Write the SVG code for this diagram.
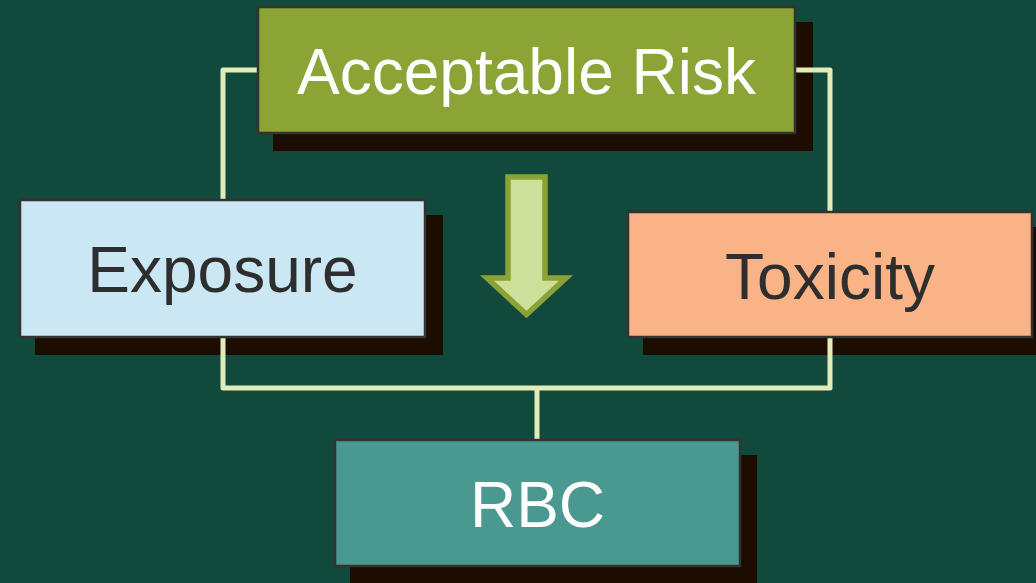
<svg xmlns="http://www.w3.org/2000/svg" width="1036" height="583" viewBox="0 0 1036 583">
<style>
.shadow{fill:#1D0C00}
.box{stroke:#333333;stroke-width:2.5}
.conn{fill:none;stroke:#E1EDB9;stroke-width:5;stroke-linejoin:round;stroke-linecap:butt}
.lbl{font-family:"Liberation Sans",Arial,sans-serif;font-size:64px;text-anchor:middle}
.light{fill:#FFFFFF}
.dark{fill:#2E2E2E}
</style>
<rect x="0" y="0" width="1036" height="583" fill="#12493D"/>
<g id="acceptable-risk">
<rect class="shadow" x="273" y="22" width="540" height="129"/>
<rect class="box" x="258" y="7" width="537" height="126" fill="#8CA335"/>
<text class="lbl light" x="526.5" y="94">Acceptable Risk</text>
</g>
<g id="exposure">
<rect class="shadow" x="35" y="215" width="408" height="140"/>
<rect class="box" x="20" y="200" width="405" height="137" fill="#CCE7F4"/>
<text class="lbl dark" x="222.5" y="292">Exposure</text>
</g>
<g id="toxicity">
<rect class="shadow" x="643" y="227" width="407" height="128"/>
<rect class="box" x="628" y="212" width="404" height="125" fill="#F9B386"/>
<text class="lbl dark" x="830" y="299">Toxicity</text>
</g>
<g id="rbc">
<rect class="shadow" x="350" y="455" width="407" height="128"/>
<rect class="box" x="335" y="440" width="405" height="126" fill="#4A9991"/>
<text class="lbl light" x="537.5" y="527">RBC</text>
</g>
<g id="arrow">
<polygon points="508,177 545,177 545,278 566,278 526.5,314.5 487,278 508,278" fill="#CDDF98" stroke="#8BA336" stroke-width="5.5" stroke-linejoin="miter"/>
</g>
<g id="connectors">
<path class="conn" d="M256.75,70 H223 V198.75"/>
<path class="conn" d="M796.25,70 H830 V210.75"/>
<path class="conn" d="M223,338.25 V388 H830 V338.25"/>
<path class="conn" d="M537,388 V438.75"/>
</g>
</svg>
